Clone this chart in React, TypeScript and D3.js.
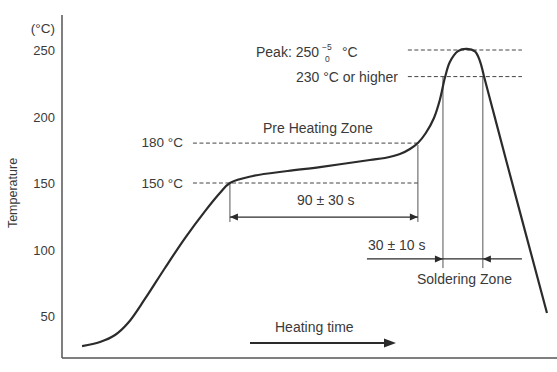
import React from 'react';
import * as d3 from 'd3';

// reflow profile (time in s, temperature in °C)
const profileTime = [9.6, 18.2, 25.4, 31.6, 39.7, 49.3, 58.9, 68.5, 75.6, 80.4, 91.4, 108, 123.5, 147.4, 154.6, 161.8, 166.6, 170.4, 174.2, 178.1, 180.9, 183.3, 185.7, 189.6, 193.9, 197.7, 200.1, 202, 206.3, 213, 232.2];
const profileTemp = [27.4, 30.5, 35.7, 44.7, 62.8, 86.1, 108.6, 128.9, 142.5, 150, 155.3, 159, 162, 167.3, 168.8, 171.8, 175.6, 180.1, 187.6, 198.9, 212.4, 228.9, 241, 249.2, 250.8, 248.9, 241.7, 230.5, 204.9, 165, 52.3];

const yTicks = [50, 100, 150, 200, 250];

// zone limits
const preHeatStart = 80.4;
const preHeatEnd = 170.4;
const solderStart = 182.4;
const solderEnd = 201.5;
const preHeatLow = 150;
const preHeatHigh = 180;
const peakTemp = 250;
const solderTemp = 230;

const W = 557;
const H = 372;
const font = '"Liberation Sans", Arial, sans-serif';
const ink = '#2b2b2b';
const textInk = '#3a3a3a';

function Arrow({ x, y, dir }: { x: number; y: number; dir: number }) {
  // filled arrow head, tip at (x, y), dir = 1 points right, -1 points left
  const l = 8 * dir;
  return <path d={`M${x},${y} L${x - l},${y - 3.5} L${x - l},${y + 3.5} Z`} fill={ink} />;
}

export default function App() {
  const x = d3.scaleLinear().domain([0, 237]).range([62, 557]);
  const y = d3.scaleLinear().domain([50, 250]).range([316, 50]);

  const pts: [number, number][] = profileTime.map((t, i) => [t, profileTemp[i]]);
  const line = d3
    .line<[number, number]>()
    .x(d => x(d[0]))
    .y(d => y(d[1]))
    .curve(d3.curveCatmullRom.alpha(0.5));

  const dash = '4,2.5';
  const arrowY1 = y(124.4);
  const arrowY2 = y(92.9);

  return (
    <svg width={W} height={H} style={{ position: 'absolute', left: 0, top: 0, background: '#fff' }} fontFamily={font}>
      {/* axes */}
      <line x1={62} y1={15} x2={62} y2={358} stroke="#555" strokeWidth={1.5} />
      <line x1={62} y1={358} x2={557} y2={358} stroke="#555" strokeWidth={1.5} />
      <text x={55} y={33} textAnchor="end" fontSize={13.5} fill={textInk}>(°C)</text>
      {yTicks.map(t => (
        <text key={t} x={55} y={y(t) + 5} textAnchor="end" fontSize={13} fill={textInk}>
          {t}
        </text>
      ))}
      <text
        transform={`translate(17,193) rotate(-90)`}
        textAnchor="middle"
        fontSize={12.5}
        fill={textInk}
      >
        Temperature
      </text>

      {/* dashed reference levels */}
      <line x1={x(62.7)} x2={x(preHeatEnd)} y1={y(preHeatHigh)} y2={y(preHeatHigh)} stroke="#444" strokeWidth={1} strokeDasharray={dash} />
      <line x1={x(62.7)} x2={x(preHeatEnd)} y1={y(preHeatLow)} y2={y(preHeatLow)} stroke="#444" strokeWidth={1} strokeDasharray={dash} />
      <line x1={x(165.6)} x2={x(220.2)} y1={y(peakTemp)} y2={y(peakTemp)} stroke="#444" strokeWidth={1} strokeDasharray={dash} />
      <line x1={x(165.6)} x2={x(220.2)} y1={y(solderTemp)} y2={y(solderTemp)} stroke="#444" strokeWidth={1} strokeDasharray={dash} />

      {/* zone verticals */}
      <line x1={x(preHeatStart)} x2={x(preHeatStart)} y1={y(preHeatLow)} y2={y(120.7)} stroke="#555" strokeWidth={1} />
      <line x1={x(preHeatEnd)} x2={x(preHeatEnd)} y1={y(preHeatHigh) + 2} y2={y(120.7)} stroke="#555" strokeWidth={1} />
      <line x1={x(solderStart)} x2={x(solderStart)} y1={y(solderTemp)} y2={y(86)} stroke="#555" strokeWidth={1} />
      <line x1={x(solderEnd)} x2={x(solderEnd)} y1={y(solderTemp)} y2={y(86)} stroke="#555" strokeWidth={1} />

      {/* 90 ± 30 s */}
      <line x1={x(preHeatStart)} x2={x(preHeatEnd)} y1={arrowY1} y2={arrowY1} stroke={ink} strokeWidth={1.2} />
      <Arrow x={x(preHeatStart)} y={arrowY1} dir={-1} />
      <Arrow x={x(preHeatEnd)} y={arrowY1} dir={1} />

      {/* 30 ± 10 s */}
      <line x1={x(146)} x2={x(220.2)} y1={arrowY2} y2={arrowY2} stroke={ink} strokeWidth={1.2} />
      <Arrow x={x(solderStart)} y={arrowY2} dir={1} />
      <Arrow x={x(solderEnd)} y={arrowY2} dir={-1} />

      {/* heating time arrow */}
      <line x1={250} x2={390} y1={343} y2={343} stroke={ink} strokeWidth={2} />
      <path d="M396,343 L384,338.5 L384,347.5 Z" fill={ink} />

      {/* profile */}
      <path d={line(pts) ?? ''} fill="none" stroke={ink} strokeWidth={2.2} />

      {/* labels */}
      <text x={256} y={57} fontSize={14} fill={textInk}>Peak: 250</text>
      <text x={322} y={50} fontSize={8.5} fill={textInk}>−5</text>
      <text x={325} y={62} fontSize={8.5} fill={textInk}>0</text>
      <text x={342} y={57} fontSize={14} fill={textInk}>°C</text>
      <text x={398} y={82} textAnchor="end" fontSize={14} fill={textInk}>230 °C or higher</text>
      <text x={263} y={133} fontSize={14} fill={textInk}>Pre Heating Zone</text>
      <text x={183} y={147} textAnchor="end" fontSize={13.5} fill={textInk}>180 °C</text>
      <text x={183} y={188} textAnchor="end" fontSize={13.5} fill={textInk}>150 °C</text>
      <text x={297} y={205} fontSize={14} fill={textInk}>90 ± 30 s</text>
      <text x={368} y={250} fontSize={14} fill={textInk}>30 ± 10 s</text>
      <text x={417} y={284} fontSize={14} fill={textInk}>Soldering Zone</text>
      <text x={275} y={332} fontSize={14} fill={textInk}>Heating time</text>
    </svg>
  );
}
